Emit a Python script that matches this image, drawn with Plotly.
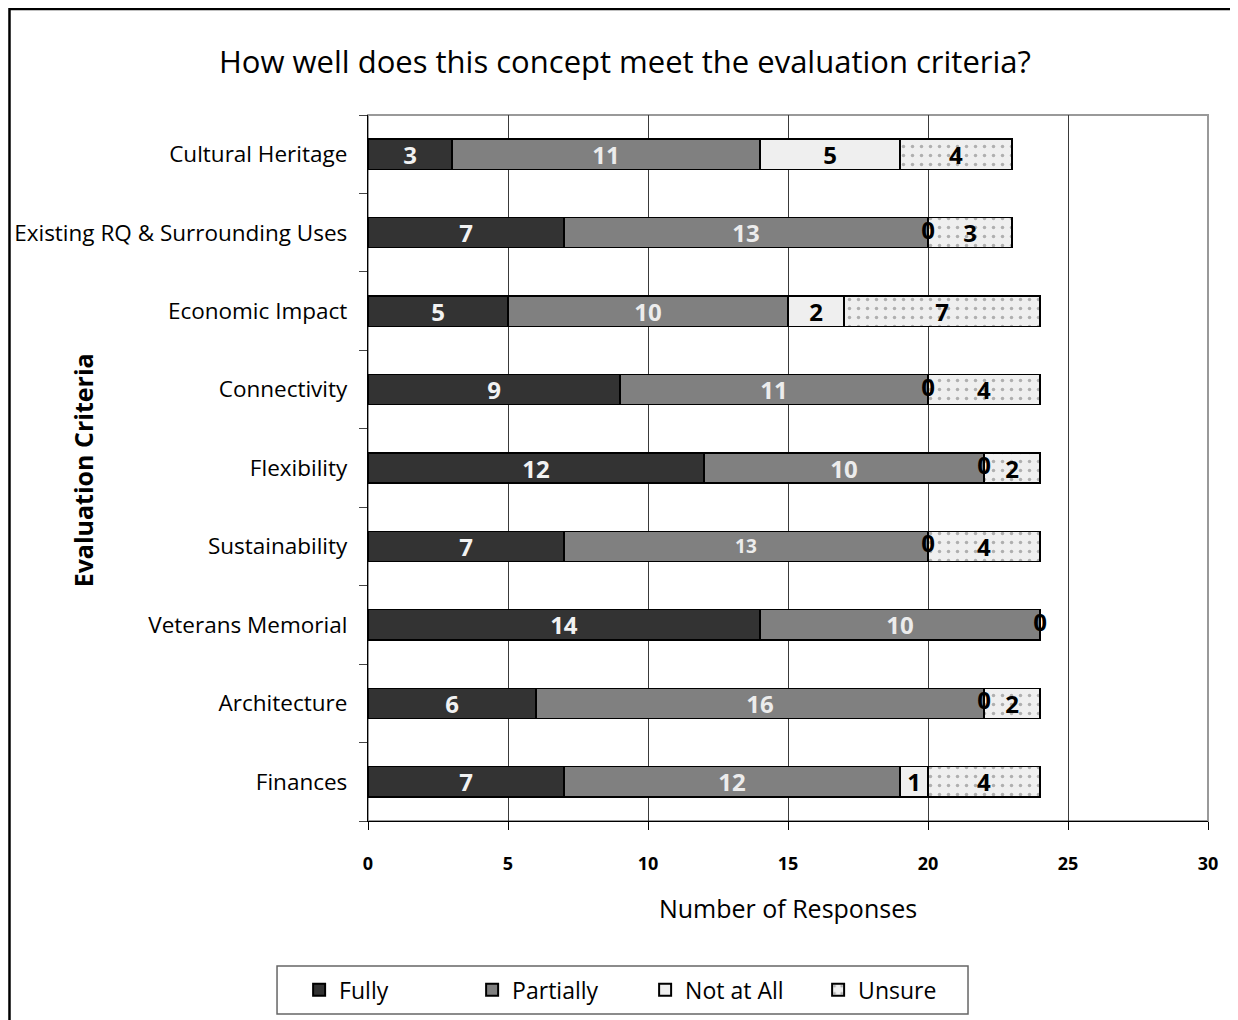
import plotly.graph_objects as go

categories = ["Cultural Heritage", "Existing RQ & Surrounding Uses", "Economic Impact",
              "Connectivity", "Flexibility", "Sustainability", "Veterans Memorial",
              "Architecture", "Finances"]
fully = [3, 7, 5, 9, 12, 7, 14, 6, 7]
partially = [11, 13, 10, 11, 10, 13, 10, 16, 12]
not_at_all = [5, 0, 2, 0, 0, 0, 0, 0, 1]
unsure = [4, 3, 7, 4, 2, 4, 0, 2, 4]
x_ticks = [0, 5, 10, 15, 20, 25, 30]

FONT = "Open Sans"
fig = go.Figure()

def nz_text(vals):
    return [str(v) if v != 0 else "" for v in vals]

series = [
    ("Fully", fully, dict(color="#333333"), "#f2f2f2"),
    ("Partially", partially, dict(color="#808080"), "#ececec"),
    ("Not at All", not_at_all, dict(color="#efefef"), "#000000"),
    ("Unsure", unsure, dict(color="#efefef",
                             pattern=dict(shape=".", fgcolor="#707070", bgcolor="#efefef",
                                          size=9, solidity=0.12)), "#000000"),
]
for name, vals, marker, tcol in series:
    sizes = [24] * len(vals)
    if name == "Partially":
        sizes[categories.index("Sustainability")] = 19
    fig.add_trace(go.Bar(
        name=name, y=categories, x=vals, orientation="h",
        marker=dict(line=dict(color="#000000", width=1.3), **marker),
        text=nz_text(vals), textposition="inside", insidetextanchor="middle",
        textangle=0, constraintext="none",
        textfont=dict(family=FONT, size=sizes, color=tcol, weight="bold"),
        width=0.385, hoverinfo="x+y+name",
    ))

# zero-valued labels placed at the stack position
zx, zy = [], []
for i, c in enumerate(categories):
    base = fully[i] + partially[i]
    if not_at_all[i] == 0:
        zx.append(base); zy.append(c)
    elif unsure[i] == 0:
        zx.append(base + not_at_all[i]); zy.append(c)
fig.add_trace(go.Scatter(
    x=zx, y=zy, mode="text", text=["0"] * len(zx), showlegend=False,
    textfont=dict(family=FONT, size=24, color="#000000", weight="bold"),
    hoverinfo="skip", cliponaxis=False,
))

fig.update_layout(
    width=1230, height=1012,
    margin=dict(l=360, r=30, t=107, b=199, autoexpand=False),
    barmode="stack",
    paper_bgcolor="white", plot_bgcolor="white",
    font=dict(family=FONT, color="#000000"),
    title=dict(text="How well does this concept meet the evaluation criteria?",
               x=0.5016, xanchor="center", xref="container",
               y=0.9466, yanchor="middle", yref="container",
               font=dict(family=FONT, size=31, color="#000000")),
    xaxis=dict(range=[0, 30], tickvals=x_ticks, showgrid=True, automargin=False,
               gridcolor="#3a3a3a", gridwidth=1, zeroline=False,
               showline=True, linecolor="#000000", linewidth=1.3,
               ticks="outside", ticklen=8, tickcolor="#000000",
               ticklabelstandoff=18,
               tickfont=dict(family=FONT, size=18, weight="bold"),
               title=dict(text="Number of Responses", standoff=26,
                          font=dict(family=FONT, size=25))),
    yaxis=dict(categoryorder="array", categoryarray=categories[::-1], automargin=False,
               showline=True, linecolor="#000000", linewidth=1.3,
               ticks="outside", ticklen=8, tickcolor="#444444", tickson="boundaries",
               showgrid=False, tickfont=dict(family=FONT, size=22.5),
               ticklabelstandoff=15),
    legend=dict(orientation="h", x=-0.082, xanchor="left", y=-0.239, yanchor="middle",
                borderwidth=0, bgcolor="rgba(0,0,0,0)",
                font=dict(family=FONT, size=23),
                entrywidth=128, entrywidthmode="pixels",
                itemsizing="constant", itemwidth=30, traceorder="normal"),
    annotations=[
        dict(text="<b>Evaluation Criteria</b>", xref="paper", yref="paper",
             x=-0.339, y=0.497, xanchor="center", yanchor="middle", textangle=-90,
             showarrow=False, font=dict(family=FONT, size=25, color="#000000")),
    ],
    shapes=[
        dict(type="rect", xref="paper", yref="paper", x0=0, x1=1, y0=0, y1=1,
             line=dict(color="#999999", width=2), layer="below"),
        dict(type="rect", xref="paper", yref="paper", x0=-0.1083, x1=0.7143,
             y0=-0.2734, y1=-0.2054, line=dict(color="#666666", width=1.5),
             fillcolor="rgba(0,0,0,0)", layer="above"),
        dict(type="rect", xref="paper", yref="paper", x0=-0.4268, x1=1.031,
             y0=-0.3, y1=1.150, line=dict(color="#000000", width=2.5),
             fillcolor="rgba(0,0,0,0)", layer="above"),
    ],
)

fig.write_html("out.html")
